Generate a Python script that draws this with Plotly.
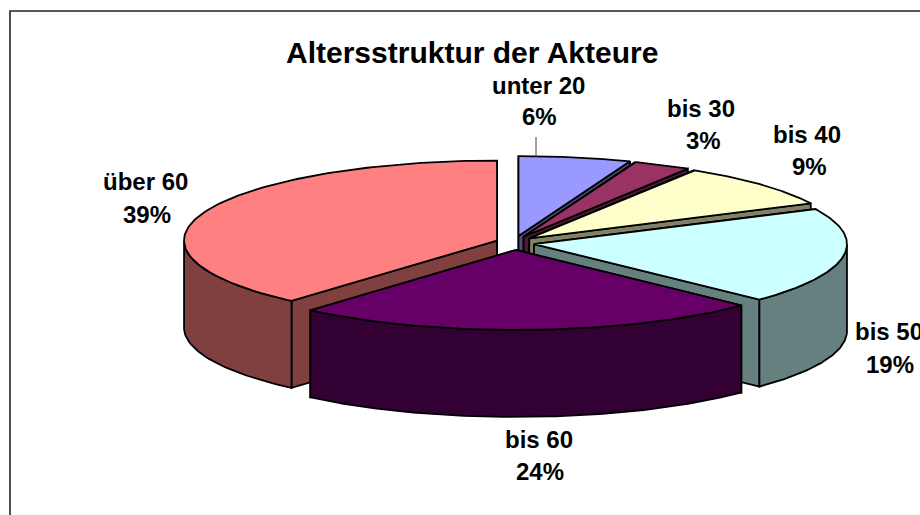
import numpy as np
import plotly.graph_objects as go

# --- data ---
categories = ["unter 20", "bis 30", "bis 40", "bis 50", "bis 60", "über 60"]
values = [5.8, 3.0, 9.0, 19.4, 24.2, 38.6]
percent_labels = ["6%", "3%", "9%", "19%", "24%", "39%"]

# --- style ---
top_colors = ["#9999FF", "#993366", "#FFFFCC", "#CCFFFF", "#660066", "#FF8080"]
wall_colors = ["#4D4D80", "#4D1A33", "#808066", "#668080", "#330033", "#804040"]
draw_order = [0, 1, 2, 5, 3, 4]
label_pos = [(538, 85, 539, 116), (701, 108, 703, 140), (807, 134, 809, 166),
             (889, 331, 890, 364), (539, 439, 540, 471), (145, 181, 147, 214)]
CX, CY, EX, EY, RX, RY, DEPTH = 515, 243, 19.2, 7, 313, 80, 87

total = sum(values)
cum = np.cumsum([0] + values) / total * 2 * np.pi
fig = go.Figure()


def rim(ax, ay, angles):
    return ax + RX * np.sin(angles), ay - RY * np.cos(angles)


def poly(xs, ys, color):
    fig.add_trace(go.Scatter(
        x=list(xs) + [xs[0]], y=list(ys) + [ys[0]], mode="lines", fill="toself",
        fillcolor=color, line=dict(color="black", width=1.8, shape="linear"),
        hoverinfo="skip", showlegend=False))


for i in draw_order:
    a0, a1 = cum[i], cum[i + 1]
    mid = (a0 + a1) / 2
    ax, ay = CX + EX * np.sin(mid), CY - EY * np.cos(mid)
    angles = np.linspace(a0, a1, 120)
    rx_pts, ry_pts = rim(ax, ay, angles)

    # radial walls
    for k in (0, -1):
        poly([ax, rx_pts[k], rx_pts[k], ax],
             [ay, ry_pts[k], ry_pts[k] + DEPTH, ay + DEPTH], wall_colors[i])

    # outer wall: only the part facing the viewer
    front = angles[(angles >= np.pi / 2) & (angles <= 3 * np.pi / 2)]
    if len(front) > 1:
        fx, fy = rim(ax, ay, front)
        poly(np.r_[fx, fx[::-1]], np.r_[fy, fy[::-1] + DEPTH], wall_colors[i])

    # top face
    poly(np.r_[ax, rx_pts], np.r_[ay, ry_pts], top_colors[i])

annotations = [dict(x=472, y=52, text="<b>Altersstruktur der Akteure</b>", showarrow=False,
                    xanchor="center", yanchor="middle",
                    font=dict(family="Liberation Sans", size=30, color="black"))]
for name, pct, (x1, y1, x2, y2) in zip(categories, percent_labels, label_pos):
    for text, x, y in ((name, x1, y1), (pct, x2, y2)):
        annotations.append(dict(x=x, y=y, text=f"<b>{text}</b>", showarrow=False,
                                xanchor="center", yanchor="middle",
                                font=dict(family="Liberation Sans", size=24, color="black")))

fig.update_layout(
    width=920, height=515, margin=dict(l=0, r=0, t=0, b=0),
    paper_bgcolor="white", plot_bgcolor="white", showlegend=False,
    xaxis=dict(range=[0, 920], visible=False, fixedrange=True),
    yaxis=dict(range=[515, 0], visible=False, fixedrange=True),
    annotations=annotations,
    shapes=[
        dict(type="rect", x0=10, y0=11, x1=960, y1=560, line=dict(color="#222222", width=1.6), layer="below"),
        dict(type="line", x0=536, y0=137, x1=536, y1=157, line=dict(color="#444444", width=1)),
    ],
)

fig.write_html("out.html", config={"displayModeBar": False},
               post_script="document.body.style.margin='0';document.documentElement.style.overflow='hidden';")
